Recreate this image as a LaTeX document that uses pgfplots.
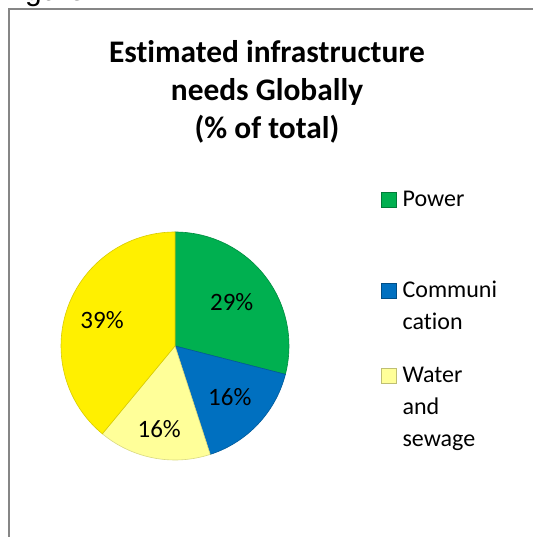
\documentclass[border=0pt]{standalone}
\usepackage{pgfplots}
\pgfplotsset{compat=1.18}
\usepackage{pgfplotstable}
\usepackage{fontspec}
\setmainfont{Carlito}[Ligatures=NoCommon]
\newfontfamily\arialfont{Liberation Sans}
\definecolor{pgreen}{RGB}{0,176,80}
\definecolor{pblue}{RGB}{0,112,192}
\definecolor{plight}{RGB}{255,255,153}
\definecolor{pyellow}{RGB}{255,240,0}
\definecolor{framegray}{RGB}{134,134,134}
\pgfplotsset{sqlegend/.style={legend image code/.code={\draw[##1] (0pt,-0.5pt) rectangle (15pt,14.5pt);}}}

\pgfplotstableread{
name value lr
Power 29 0.63
Communication 16 0.66
Water 16 0.74
Other 39 0.68
}\piedata

\begin{document}
\begin{tikzpicture}
\useasboundingbox (0,0) rectangle (532pt,537pt);
\node[anchor=base west, inner sep=0pt, font=\arialfont\fontsize{30}{34}\selectfont] at (0pt,536pt) {Figure 4.4};
\draw[framegray, line width=2pt] (8.5pt,-2pt) -- (8.5pt,528pt) -- (540pt,528pt);
% title
\begin{scope}[every node/.style={anchor=base, inner sep=0pt, font=\bfseries\fontsize{31.4}{38}\selectfont}]
\node at (267pt,474pt) {Estimated infrastructure};
\node at (267pt,436pt) {needs Globally};
\node at (267pt,398pt) {(\% of total)};
\end{scope}
% values and angles
\pgfplotstablegetelem{0}{value}\of\piedata \pgfmathtruncatemacro\vA{\pgfplotsretval}
\pgfplotstablegetelem{1}{value}\of\piedata \pgfmathtruncatemacro\vB{\pgfplotsretval}
\pgfplotstablegetelem{2}{value}\of\piedata \pgfmathtruncatemacro\vC{\pgfplotsretval}
\pgfplotstablegetelem{3}{value}\of\piedata \pgfmathtruncatemacro\vD{\pgfplotsretval}
\pgfplotstablegetelem{0}{lr}\of\piedata \pgfmathsetmacro\lA{\pgfplotsretval}
\pgfplotstablegetelem{1}{lr}\of\piedata \pgfmathsetmacro\lB{\pgfplotsretval}
\pgfplotstablegetelem{2}{lr}\of\piedata \pgfmathsetmacro\lC{\pgfplotsretval}
\pgfplotstablegetelem{3}{lr}\of\piedata \pgfmathsetmacro\lD{\pgfplotsretval}
\pgfmathsetmacro\aA{90}
\pgfmathsetmacro\aB{\aA-3.6*\vA}
\pgfmathsetmacro\aC{\aB-3.6*\vB}
\pgfmathsetmacro\aD{\aC-3.6*\vC}
\pgfmathsetmacro\aE{\aD-3.6*\vD}
\pgfmathsetmacro\mA{(\aA+\aB)/2}
\pgfmathsetmacro\mB{(\aB+\aC)/2}
\pgfmathsetmacro\mC{(\aC+\aD)/2}
\pgfmathsetmacro\mD{(\aD+\aE)/2}
\begin{axis}[
  at={(175pt,191pt)}, anchor=center, scale only axis, width=228pt, height=228pt,
  xmin=-1, xmax=1, ymin=-1, ymax=1, hide axis, clip=false,
  legend style={at={(1.4035,1.182)}, anchor=north west, draw=none, fill=none,
    inner sep=0pt, row sep=0pt, column sep=6pt, cells={anchor=base west},
    nodes={inner sep=0pt, text width=110pt, align=left, text height=16pt,
      font=\fontsize{24}{32}\selectfont}},
]
\addlegendimage{sqlegend, fill=pgreen, draw=pgreen!70!black}
\addlegendentry[text depth=75pt]{Power}
\addlegendimage{sqlegend, fill=pblue, draw=pblue!70!black}
\addlegendentry[text depth=69pt]{Communi\\cation}
\addlegendimage{sqlegend, fill=plight, draw=plight!75!black}
\addlegendentry[text depth=70pt]{Water\\and\\sewage}
\fill[pgreen, draw=pgreen!80!black, line width=0.6pt] (axis cs:0,0) -- ++(\aA:114pt) arc[start angle=\aA, end angle=\aB, radius=114pt] -- cycle;
\fill[pblue, draw=pblue!80!black, line width=0.6pt] (axis cs:0,0) -- ++(\aB:114pt) arc[start angle=\aB, end angle=\aC, radius=114pt] -- cycle;
\fill[plight, draw=plight!85!black, line width=0.6pt] (axis cs:0,0) -- ++(\aC:114pt) arc[start angle=\aC, end angle=\aD, radius=114pt] -- cycle;
\fill[pyellow, draw=pyellow!85!black, line width=0.6pt] (axis cs:0,0) -- ++(\aD:114pt) arc[start angle=\aD, end angle=\aE, radius=114pt] -- cycle;
\begin{scope}[every node/.style={inner sep=0pt, font=\fontsize{25}{30}\selectfont}]
\node at (axis cs:{\lA*cos(\mA)},{\lA*sin(\mA)}) {\vA\%};
\node at (axis cs:{\lB*cos(\mB)},{\lB*sin(\mB)}) {\vB\%};
\node at (axis cs:{\lC*cos(\mC)},{\lC*sin(\mC)}) {\vC\%};
\node at (axis cs:{\lD*cos(\mD)},{\lD*sin(\mD)}) {\vD\%};
\end{scope}
\end{axis}
\end{tikzpicture}
\end{document}
